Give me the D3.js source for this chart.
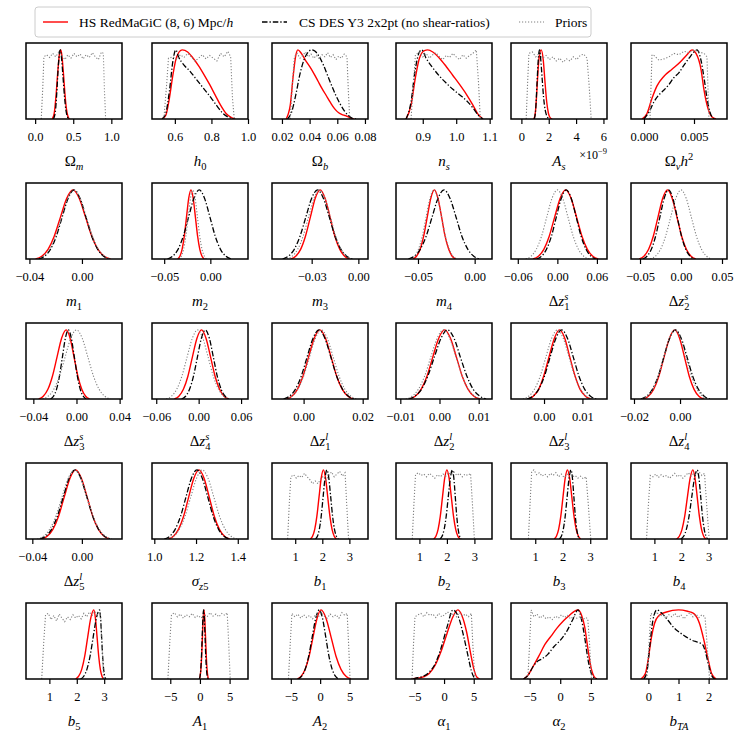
<!DOCTYPE html>
<html>
<head>
<meta charset="utf-8">
<script src="https://cdn.jsdelivr.net/npm/d3@7"></script>
<style>
  body { margin: 0; background: #fff; }
  text { font-family: "Liberation Serif", "DejaVu Serif", serif; fill: #000; }
</style>
</head>
<body>
<svg id="chart" width="746" height="745"></svg>
<script>
// ---- data ----

// label parts: [text, role]; role: none = upright, "it" = italic, "sub" italic subscript,
// "subr" upright subscript, "sup" upright superscript, "ss" stacked "sup|sub"
const paramLabels = [
  [["Ω"], ["m", "sub"]],
  [["h", "it"], ["0", "subr"]],
  [["Ω"], ["b", "sub"]],
  [["n", "it"], ["s", "sub"]],
  [["A", "it"], ["s", "sub"]],
  [["Ω"], ["ν", "sub"], ["h", "it"], ["2", "sup"]],
  [["m", "it"], ["1", "subr"]],
  [["m", "it"], ["2", "subr"]],
  [["m", "it"], ["3", "subr"]],
  [["m", "it"], ["4", "subr"]],
  [["Δ"], ["z", "it"], ["s|1", "ss"]],
  [["Δ"], ["z", "it"], ["s|2", "ss"]],
  [["Δ"], ["z", "it"], ["s|3", "ss"]],
  [["Δ"], ["z", "it"], ["s|4", "ss"]],
  [["Δ"], ["z", "it"], ["l|1", "ss"]],
  [["Δ"], ["z", "it"], ["l|2", "ss"]],
  [["Δ"], ["z", "it"], ["l|3", "ss"]],
  [["Δ"], ["z", "it"], ["l|4", "ss"]],
  [["Δ"], ["z", "it"], ["l|5", "ss"]],
  [["σ", "it"], ["z", "sub"], ["5", "subr"]],
  [["b", "it"], ["1", "subr"]],
  [["b", "it"], ["2", "subr"]],
  [["b", "it"], ["3", "subr"]],
  [["b", "it"], ["4", "subr"]],
  [["b", "it"], ["5", "subr"]],
  [["A", "it"], ["1", "subr"]],
  [["A", "it"], ["2", "subr"]],
  [["α", "it"], ["1", "subr"]],
  [["α", "it"], ["2", "subr"]],
  [["b", "it"], ["TA", "sub"]]
];

const xDomains = [
  [-0.12, 1.14], [0.475, 1.0], [0.0128, 0.0822], [0.82, 1.107], [-0.76, 6.26], [-0.0013, 0.0083],
  [-0.0426, 0.0305], [-0.0632, 0.0408], [-0.0555, 0.0062], [-0.0694, 0.0153], [-0.0703, 0.0753], [-0.061, 0.0561],
  [-0.0468, 0.0422], [-0.066, 0.0698], [-0.0107, 0.0218], [-0.0111, 0.0134], [-0.0086, 0.0164], [-0.0213, 0.0204],
  [-0.0451, 0.0324], [0.989, 1.449], [0.143, 3.687], [0.149, 3.64], [0.118, 3.61], [0.137, 3.68],
  [0.147, 3.65], [-8.08, 8.1], [-8.2, 8.15], [-8.1, 8.08], [-8.04, 7.64], [-0.577, 2.61]
];

const xTicks = [
  [0, 0.5, 1.0], [0.6, 0.8, 1.0], [0.02, 0.04, 0.06, 0.08], [0.9, 1.0, 1.1], [0, 2, 4, 6], [0, 0.005],
  [-0.04, 0], [-0.05, 0], [-0.03, 0], [-0.05, 0], [-0.06, 0, 0.06], [-0.05, 0, 0.05],
  [-0.04, 0, 0.04], [-0.06, 0, 0.06], [0, 0.02], [-0.01, 0, 0.01], [0, 0.01], [-0.02, 0],
  [-0.04, 0], [1.0, 1.2, 1.4], [1, 2, 3], [1, 2, 3], [1, 2, 3], [1, 2, 3],
  [1, 2, 3], [-5, 0, 5], [-5, 0, 5], [-5, 0, 5], [-5, 0, 5], [0, 1, 2]
];

const tickFormats = [
  ".1f", ".1f", ".2f", ".1f", "d", ".3f",
  ".2f", ".2f", ".2f", ".2f", ".2f", ".2f",
  ".2f", ".2f", ".2f", ".2f", ".2f", ".2f",
  ".2f", ".1f", "d", "d", "d", "d",
  "d", "d", "d", "d", "d", "d"
];

// HS RedMaGiC (8, 6) Mpc/h
const hsRedmagic = [
  [[0.225,0],[0.25,0.08],[0.275,0.35],[0.3,0.72],[0.32,0.95],[0.335,1],[0.35,0.93],[0.37,0.68],[0.39,0.38],[0.41,0.15],[0.43,0.04],[0.45,0]],
  [[0.53,0],[0.55,0.05],[0.57,0.3],[0.59,0.65],[0.61,0.9],[0.64,1],[0.67,0.97],[0.7,0.88],[0.73,0.77],[0.76,0.64],[0.79,0.5],[0.82,0.35],[0.85,0.2],[0.88,0.08],[0.91,0.02],[0.93,0]],
  [[0.023,0],[0.026,0.2],[0.028,0.6],[0.03,0.92],[0.0315,1],[0.034,0.95],[0.037,0.85],[0.04,0.76],[0.043,0.66],[0.046,0.55],[0.049,0.44],[0.052,0.34],[0.055,0.24],[0.058,0.15],[0.061,0.09],[0.064,0.06],[0.067,0.04],[0.07,0.01],[0.072,0]],
  [[0.85,0],[0.865,0.2],[0.878,0.6],[0.89,0.88],[0.905,0.99],[0.915,1],[0.93,0.97],[0.95,0.88],[0.97,0.76],[0.99,0.63],[1.01,0.5],[1.03,0.36],[1.05,0.2],[1.065,0.07],[1.08,0]],
  [[0.9,0],[1.0,0.06],[1.1,0.3],[1.2,0.65],[1.3,0.9],[1.45,1],[1.6,0.85],[1.72,0.55],[1.85,0.25],[1.98,0.08],[2.1,0.02],[2.25,0]],
  [[-0.0002,0],[0.0003,0.08],[0.0008,0.3],[0.0013,0.48],[0.002,0.62],[0.0028,0.72],[0.0036,0.82],[0.0043,0.93],[0.0048,1],[0.0052,0.95],[0.0057,0.72],[0.006,0.42],[0.0064,0.15],[0.0068,0.03],[0.0072,0]],
  [[-0.0353,0],[-0.0306,0.04],[-0.0258,0.14],[-0.0211,0.33],[-0.0163,0.61],[-0.0116,0.88],[-0.0068,1],[-0.0021,0.88],[0.0027,0.61],[0.0075,0.33],[0.0122,0.14],[0.017,0.04],[0.0217,0]],
  [[-0.0354,0],[-0.033,0.04],[-0.0306,0.14],[-0.0282,0.33],[-0.0258,0.61],[-0.0234,0.88],[-0.021,1],[-0.0186,0.88],[-0.0162,0.61],[-0.0138,0.33],[-0.0114,0.14],[-0.009,0.04],[-0.0066,0]],
  [[-0.0434,0],[-0.0403,0.04],[-0.0371,0.14],[-0.034,0.33],[-0.0308,0.61],[-0.0277,0.88],[-0.0245,1],[-0.0214,0.88],[-0.0182,0.61],[-0.0151,0.33],[-0.0119,0.14],[-0.0088,0.04],[-0.0056,0]],
  [[-0.0544,0],[-0.0513,0.04],[-0.0481,0.14],[-0.045,0.33],[-0.0418,0.61],[-0.0387,0.88],[-0.0355,1],[-0.0324,0.88],[-0.0292,0.61],[-0.0261,0.33],[-0.0229,0.14],[-0.0198,0.04],[-0.0166,0]],
  [[-0.037,0],[-0.0288,0.04],[-0.0205,0.14],[-0.0123,0.33],[-0.004,0.61],[0.0043,0.88],[0.0125,1],[0.0208,0.88],[0.029,0.61],[0.0373,0.33],[0.0455,0.14],[0.0538,0.04],[0.062,0]],
  [[-0.051,0],[-0.0453,0.04],[-0.0395,0.14],[-0.0338,0.33],[-0.028,0.61],[-0.0223,0.88],[-0.0165,1],[-0.0108,0.88],[-0.005,0.61],[0.0008,0.33],[0.0065,0.14],[0.0123,0.04],[0.018,0]],
  [[-0.035,0],[-0.0308,0.04],[-0.0265,0.14],[-0.0223,0.33],[-0.018,0.61],[-0.0138,0.88],[-0.0095,1],[-0.0059,0.88],[-0.0023,0.61],[0.0013,0.33],[0.0049,0.14],[0.0085,0.04],[0.0121,0]],
  [[-0.0344,0],[-0.028,0.04],[-0.0216,0.14],[-0.0152,0.33],[-0.0088,0.61],[-0.0024,0.88],[0.004,1],[0.0104,0.88],[0.0168,0.61],[0.0232,0.33],[0.0296,0.14],[0.036,0.04],[0.0424,0]],
  [[-0.0059,0],[-0.004,0.04],[-0.0021,0.14],[-0.0002,0.33],[0.0017,0.61],[0.0036,0.88],[0.0055,1],[0.0074,0.88],[0.0093,0.61],[0.0112,0.33],[0.0131,0.14],[0.015,0.04],[0.0169,0]],
  [[-0.0077,0],[-0.0062,0.04],[-0.0047,0.14],[-0.0032,0.33],[-0.0017,0.61],[-0.0002,0.88],[0.0013,1],[0.0028,0.88],[0.0043,0.61],[0.0058,0.33],[0.0073,0.14],[0.0088,0.04],[0.0103,0]],
  [[-0.0041,0],[-0.0028,0.04],[-0.0014,0.14],[-0.0001,0.33],[0.0013,0.61],[0.0027,0.88],[0.004,1],[0.0054,0.88],[0.0067,0.61],[0.0081,0.33],[0.0094,0.14],[0.0108,0.04],[0.0121,0]],
  [[-0.0161,0],[-0.0138,0.04],[-0.0115,0.14],[-0.0092,0.33],[-0.0069,0.61],[-0.0046,0.88],[-0.0023,1],[-0.0002,0.88],[0.0019,0.61],[0.004,0.33],[0.0061,0.14],[0.0082,0.04],[0.0103,0]],
  [[-0.0326,0],[-0.028,0.04],[-0.0234,0.14],[-0.0188,0.33],[-0.0142,0.61],[-0.0096,0.88],[-0.005,1],[-0.0004,0.88],[0.0042,0.61],[0.0088,0.33],[0.0134,0.14],[0.018,0.04],[0.0226,0]],
  [[1.067,0],[1.0915,0.04],[1.116,0.14],[1.1405,0.33],[1.165,0.61],[1.1895,0.88],[1.214,1],[1.2385,0.88],[1.263,0.61],[1.2875,0.33],[1.312,0.14],[1.3365,0.04],[1.361,0]],
  [[1.56,0],[1.64,0.04],[1.72,0.14],[1.8,0.33],[1.88,0.61],[1.96,0.88],[2.04,1],[2.12,0.88],[2.2,0.61],[2.28,0.33],[2.36,0.14],[2.44,0.04],[2.52,0]],
  [[1.52,0],[1.6,0.04],[1.68,0.14],[1.76,0.33],[1.84,0.61],[1.92,0.88],[2,1],[2.08,0.88],[2.16,0.61],[2.24,0.33],[2.32,0.14],[2.4,0.04],[2.48,0]],
  [[1.69,0],[1.77,0.04],[1.85,0.14],[1.93,0.33],[2.01,0.61],[2.09,0.88],[2.17,1],[2.25,0.88],[2.33,0.61],[2.41,0.33],[2.49,0.14],[2.57,0.04],[2.65,0]],
  [[1.82,0],[1.92,0.04],[2.02,0.14],[2.12,0.33],[2.22,0.61],[2.32,0.88],[2.42,1],[2.5,0.88],[2.58,0.61],[2.66,0.33],[2.74,0.14],[2.82,0.04],[2.9,0]],
  [[1.96,0],[2.07,0.04],[2.18,0.14],[2.29,0.33],[2.4,0.61],[2.51,0.88],[2.62,1],[2.68,0.88],[2.74,0.61],[2.8,0.33],[2.86,0.14],[2.92,0.04],[2.98,0]],
  [[-0.1,0],[0.03,0.04],[0.16,0.14],[0.29,0.33],[0.42,0.61],[0.55,0.88],[0.68,1],[0.81,0.88],[0.94,0.61],[1.07,0.33],[1.2,0.14],[1.33,0.04],[1.46,0]],
  [[-3.9,0],[-3.225,0.04],[-2.55,0.14],[-1.875,0.33],[-1.2,0.61],[-0.525,0.88],[0.15,1],[1.0,0.88],[1.85,0.61],[2.7,0.33],[3.55,0.14],[4.4,0.04],[5.25,0]],
  [[-5.5,0],[-4.5,0.01],[-3.5,0.03],[-2.5,0.08],[-1.5,0.2],[-0.5,0.4],[0.5,0.66],[1.5,0.9],[2.3,1],[3.0,0.92],[3.8,0.68],[4.5,0.36],[5.0,0.15],[5.5,0.03],[6.0,0]],
  [[-6,0],[-5.3,0.05],[-4.5,0.17],[-3.5,0.33],[-2.5,0.5],[-1.5,0.62],[-0.5,0.74],[0.5,0.84],[1.5,0.92],[2.3,0.98],[2.9,1],[3.5,0.92],[4.0,0.75],[4.5,0.45],[5.0,0.18],[5.5,0.04],[6.0,0]],
  [[-0.25,0],[-0.1,0.08],[0,0.3],[0.1,0.6],[0.2,0.8],[0.35,0.92],[0.6,0.97],[1.0,1],[1.3,0.98],[1.5,0.95],[1.7,0.8],[1.85,0.55],[2.0,0.25],[2.1,0.08],[2.25,0]]
];

// CS DES Y3 2x2pt (no shear-ratios)
const csDesY3 = [
  [[0.24,0],[0.265,0.1],[0.285,0.4],[0.305,0.78],[0.32,0.96],[0.33,1],[0.345,0.9],[0.365,0.62],[0.385,0.33],[0.405,0.12],[0.425,0.03],[0.445,0]],
  [[0.53,0],[0.55,0.08],[0.57,0.4],[0.59,0.85],[0.605,1],[0.62,0.9],[0.65,0.78],[0.68,0.7],[0.71,0.6],[0.74,0.5],[0.77,0.4],[0.8,0.3],[0.83,0.19],[0.86,0.09],[0.89,0.03],[0.92,0]],
  [[0.024,0],[0.027,0.1],[0.03,0.35],[0.033,0.65],[0.036,0.86],[0.039,0.97],[0.0415,1],[0.044,0.98],[0.047,0.9],[0.05,0.78],[0.053,0.63],[0.056,0.48],[0.059,0.34],[0.062,0.22],[0.065,0.12],[0.068,0.05],[0.071,0.01],[0.074,0]],
  [[0.85,0],[0.865,0.25],[0.877,0.7],[0.89,0.97],[0.897,1],[0.91,0.88],[0.93,0.74],[0.95,0.62],[0.97,0.52],[0.99,0.43],[1.01,0.35],[1.03,0.27],[1.05,0.16],[1.065,0.06],[1.08,0]],
  [[0.95,0],[1.05,0.15],[1.15,0.55],[1.25,0.9],[1.32,1],[1.42,0.85],[1.52,0.58],[1.62,0.32],[1.75,0.12],[1.9,0.03],[2.05,0]],
  [[0,0],[0.0005,0.1],[0.001,0.25],[0.0015,0.35],[0.002,0.42],[0.0025,0.5],[0.003,0.6],[0.0035,0.67],[0.004,0.78],[0.0045,0.88],[0.005,0.97],[0.0053,1],[0.0057,0.85],[0.006,0.6],[0.0063,0.3],[0.0066,0.1],[0.007,0]],
  [[-0.033,0],[-0.0285,0.04],[-0.024,0.14],[-0.0195,0.33],[-0.015,0.61],[-0.0105,0.88],[-0.006,1],[-0.0015,0.88],[0.003,0.61],[0.0075,0.33],[0.012,0.14],[0.0165,0.04],[0.021,0]],
  [[-0.0465,0],[-0.0408,0.04],[-0.035,0.14],[-0.0293,0.33],[-0.0235,0.61],[-0.0178,0.88],[-0.012,1],[-0.0063,0.88],[-0.0005,0.61],[0.0053,0.33],[0.011,0.14],[0.0168,0.04],[0.0225,0]],
  [[-0.0487,0],[-0.045,0.04],[-0.0412,0.14],[-0.0375,0.33],[-0.0337,0.61],[-0.03,0.88],[-0.0262,1],[-0.0225,0.88],[-0.0187,0.61],[-0.015,0.33],[-0.0112,0.14],[-0.0075,0.04],[-0.0037,0]],
  [[-0.0585,0],[-0.0533,0.04],[-0.048,0.14],[-0.0428,0.33],[-0.0375,0.61],[-0.0323,0.88],[-0.027,1],[-0.0218,0.88],[-0.0165,0.61],[-0.0113,0.33],[-0.006,0.14],[-0.0008,0.04],[0.0045,0]],
  [[-0.0315,0],[-0.024,0.04],[-0.0165,0.14],[-0.009,0.33],[-0.0015,0.61],[0.006,0.88],[0.0135,1],[0.021,0.88],[0.0285,0.61],[0.036,0.33],[0.0435,0.14],[0.051,0.04],[0.0585,0]],
  [[-0.0467,0],[-0.0415,0.04],[-0.0362,0.14],[-0.031,0.33],[-0.0257,0.61],[-0.0205,0.88],[-0.0152,1],[-0.01,0.88],[-0.0047,0.61],[0.0006,0.33],[0.0058,0.14],[0.0111,0.04],[0.0163,0]],
  [[-0.024,0],[-0.0213,0.04],[-0.0185,0.14],[-0.0158,0.33],[-0.013,0.61],[-0.0103,0.88],[-0.0075,1],[-0.0048,0.88],[-0.002,0.61],[0.0008,0.33],[0.0035,0.14],[0.0063,0.04],[0.009,0]],
  [[-0.0241,0],[-0.0185,0.04],[-0.0129,0.14],[-0.0073,0.33],[-0.0017,0.61],[0.0039,0.88],[0.0095,1],[0.0151,0.88],[0.0207,0.61],[0.0263,0.33],[0.0319,0.14],[0.0375,0.04],[0.0431,0]],
  [[-0.0068,0],[-0.0048,0.04],[-0.0028,0.14],[-0.0008,0.33],[0.0012,0.61],[0.0032,0.88],[0.0052,1],[0.0072,0.88],[0.0092,0.61],[0.0112,0.33],[0.0132,0.14],[0.0152,0.04],[0.0172,0]],
  [[-0.0079,0],[-0.0063,0.04],[-0.0046,0.14],[-0.003,0.33],[-0.0013,0.61],[0.0004,0.88],[0.002,1],[0.0037,0.88],[0.0053,0.61],[0.007,0.33],[0.0086,0.14],[0.0103,0.04],[0.0119,0]],
  [[-0.0044,0],[-0.0029,0.04],[-0.0014,0.14],[0.0001,0.33],[0.0016,0.61],[0.0031,0.88],[0.0046,1],[0.0061,0.88],[0.0076,0.61],[0.0091,0.33],[0.0106,0.14],[0.0121,0.04],[0.0136,0]],
  [[-0.017,0],[-0.0145,0.04],[-0.012,0.14],[-0.0095,0.33],[-0.007,0.61],[-0.0045,0.88],[-0.002,1],[0.0005,0.88],[0.003,0.61],[0.0055,0.33],[0.008,0.14],[0.0105,0.04],[0.013,0]],
  [[-0.034,0],[-0.0293,0.04],[-0.0245,0.14],[-0.0198,0.33],[-0.015,0.61],[-0.0103,0.88],[-0.0055,1],[-0.0008,0.88],[0.004,0.61],[0.0088,0.33],[0.0135,0.14],[0.0183,0.04],[0.023,0]],
  [[1.048,0],[1.074,0.04],[1.1,0.14],[1.126,0.33],[1.152,0.61],[1.178,0.88],[1.204,1],[1.23,0.88],[1.256,0.61],[1.282,0.33],[1.308,0.14],[1.334,0.04],[1.36,0]],
  [[1.75,0],[1.82,0.04],[1.89,0.14],[1.96,0.33],[2.03,0.61],[2.1,0.88],[2.17,1],[2.24,0.88],[2.31,0.61],[2.38,0.33],[2.45,0.14],[2.52,0.04],[2.59,0]],
  [[1.75,0],[1.825,0.04],[1.9,0.14],[1.975,0.33],[2.05,0.61],[2.125,0.88],[2.2,1],[2.253,0.88],[2.305,0.61],[2.358,0.33],[2.41,0.14],[2.463,0.04],[2.515,0]],
  [[1.88,0],[1.95,0.04],[2.02,0.14],[2.09,0.33],[2.16,0.61],[2.23,0.88],[2.3,1],[2.353,0.88],[2.405,0.61],[2.458,0.33],[2.51,0.14],[2.563,0.04],[2.615,0]],
  [[1.98,0],[2.08,0.04],[2.18,0.14],[2.28,0.33],[2.38,0.61],[2.48,0.88],[2.58,1],[2.645,0.88],[2.71,0.61],[2.775,0.33],[2.84,0.14],[2.905,0.04],[2.97,0]],
  [[2.14,0],[2.255,0.04],[2.37,0.14],[2.485,0.33],[2.6,0.61],[2.715,0.88],[2.83,1],[2.868,0.88],[2.905,0.61],[2.943,0.33],[2.98,0.14],[3.018,0.04],[3.055,0]],
  [[-0.1,0],[0.02,0.04],[0.14,0.14],[0.26,0.33],[0.38,0.61],[0.5,0.88],[0.62,1],[0.74,0.88],[0.86,0.61],[0.98,0.33],[1.1,0.14],[1.22,0.04],[1.34,0]],
  [[-3.75,0],[-3.15,0.04],[-2.55,0.14],[-1.95,0.33],[-1.35,0.61],[-0.75,0.88],[-0.15,1],[0.4,0.88],[0.95,0.61],[1.5,0.33],[2.05,0.14],[2.6,0.04],[3.15,0]],
  [[-5.2,0],[-4.5,0.02],[-3.5,0.04],[-2.5,0.1],[-1.5,0.22],[-0.5,0.45],[0.5,0.75],[1.5,1],[2.5,0.88],[3.3,0.62],[4.0,0.35],[4.6,0.12],[5.0,0.03],[5.3,0]],
  [[-6,0],[-5.2,0.06],[-4.5,0.17],[-3.8,0.25],[-3.0,0.29],[-2.0,0.36],[-1.0,0.47],[0,0.56],[1.0,0.68],[2.0,0.85],[2.9,1],[3.5,0.85],[4.0,0.6],[4.5,0.3],[5.0,0.1],[5.5,0.02],[6.0,0]],
  [[-0.15,0],[-0.05,0.1],[0.05,0.5],[0.15,0.85],[0.28,1],[0.45,0.95],[0.65,0.85],[0.85,0.74],[1.05,0.67],[1.25,0.61],[1.45,0.56],[1.65,0.53],[1.8,0.5],[1.9,0.38],[2.0,0.2],[2.1,0.05],[2.2,0]]
];

// Priors
const priors = [
  [[0.08,0],[0.1,0.45],[0.115,0.9],[0.15,0.93],[0.19,0.89],[0.23,0.95],[0.27,0.9],[0.31,0.97],[0.35,0.92],[0.39,0.86],[0.43,0.93],[0.47,0.88],[0.51,0.95],[0.55,0.9],[0.59,0.94],[0.63,0.87],[0.67,0.93],[0.71,0.89],[0.75,0.96],[0.79,0.9],[0.83,0.86],[0.87,0.97],[0.895,0.95],[0.91,0.4],[0.925,0]],
  [[0.54,0],[0.555,0.5],[0.565,0.88],[0.59,0.9],[0.61,0.86],[0.63,0.93],[0.65,0.89],[0.67,0.95],[0.69,0.9],[0.71,0.84],[0.73,0.88],[0.75,0.93],[0.77,0.87],[0.79,0.92],[0.81,0.88],[0.83,0.84],[0.85,0.95],[0.87,0.9],[0.89,0.98],[0.905,0.9],[0.915,0.3],[0.925,0]],
  [[0.026,0],[0.0275,0.5],[0.029,0.9],[0.031,0.95],[0.033,0.88],[0.035,0.92],[0.037,0.97],[0.039,0.9],[0.041,0.94],[0.043,0.88],[0.045,0.92],[0.047,0.87],[0.049,0.93],[0.051,0.9],[0.053,0.96],[0.055,0.89],[0.057,0.93],[0.059,0.86],[0.061,0.91],[0.063,0.88],[0.065,0.94],[0.067,0.9],[0.068,0.4],[0.069,0]],
  [[0.865,0],[0.872,0.5],[0.878,0.93],[0.89,0.97],[0.9,0.9],[0.91,0.95],[0.92,0.88],[0.93,0.93],[0.94,0.96],[0.95,0.9],[0.96,0.86],[0.97,0.92],[0.98,0.89],[0.99,0.95],[1.0,0.9],[1.01,0.86],[1.02,0.93],[1.03,0.88],[1.04,0.92],[1.05,0.95],[1.06,1.0],[1.067,0.5],[1.072,0]],
  [[0.35,0],[0.45,0.5],[0.55,0.95],[0.8,0.97],[1.05,0.9],[1.3,0.95],[1.55,0.88],[1.8,0.92],[2.05,0.86],[2.3,0.9],[2.55,0.84],[2.8,0.88],[3.05,0.82],[3.3,0.87],[3.55,0.84],[3.8,0.9],[4.05,0.86],[4.3,0.92],[4.55,0.94],[4.8,0.88],[4.95,0.5],[5.1,0]],
  [[0.0006,0],[0.0008,0.93],[0.001,0.92],[0.0015,0.85],[0.002,0.87],[0.0025,0.9],[0.003,0.95],[0.0035,0.93],[0.004,0.98],[0.0045,0.96],[0.005,1.0],[0.0055,0.97],[0.006,0.95],[0.0063,0.9],[0.0065,0]],
  [[-0.0339,0],[-0.0293,0.04],[-0.0246,0.14],[-0.02,0.33],[-0.0153,0.61],[-0.0107,0.88],[-0.006,1],[-0.0014,0.88],[0.0033,0.61],[0.008,0.33],[0.0126,0.14],[0.0173,0.04],[0.0219,0]],
  [[-0.034,0],[-0.0315,0.04],[-0.029,0.14],[-0.0265,0.33],[-0.024,0.61],[-0.0215,0.88],[-0.019,1],[-0.0165,0.88],[-0.014,0.61],[-0.0115,0.33],[-0.009,0.14],[-0.0065,0.04],[-0.004,0]],
  [[-0.046,0],[-0.0425,0.04],[-0.039,0.14],[-0.0355,0.33],[-0.032,0.61],[-0.0285,0.88],[-0.025,1],[-0.0215,0.88],[-0.018,0.61],[-0.0145,0.33],[-0.011,0.14],[-0.0075,0.04],[-0.004,0]],
  [[-0.0564,0],[-0.053,0.04],[-0.0496,0.14],[-0.0462,0.33],[-0.0428,0.61],[-0.0394,0.88],[-0.036,1],[-0.0326,0.88],[-0.0292,0.61],[-0.0258,0.33],[-0.0224,0.14],[-0.019,0.04],[-0.0156,0]],
  [[-0.048,0],[-0.04,0.04],[-0.032,0.14],[-0.024,0.33],[-0.016,0.61],[-0.008,0.88],[0,1],[0.008,0.88],[0.016,0.61],[0.024,0.33],[0.032,0.14],[0.04,0.04],[0.048,0]],
  [[-0.0375,0],[-0.0313,0.04],[-0.025,0.14],[-0.0188,0.33],[-0.0125,0.61],[-0.0063,0.88],[0,1],[0.0063,0.88],[0.0125,0.61],[0.0188,0.33],[0.025,0.14],[0.0313,0.04],[0.0375,0]],
  [[-0.0315,0],[-0.0263,0.04],[-0.021,0.14],[-0.0158,0.33],[-0.0105,0.61],[-0.0053,0.88],[0,1],[0.0053,0.88],[0.0105,0.61],[0.0158,0.33],[0.021,0.14],[0.0263,0.04],[0.0315,0]],
  [[-0.0459,0],[-0.0385,0.04],[-0.0311,0.14],[-0.0237,0.33],[-0.0163,0.61],[-0.0089,0.88],[-0.0015,1],[0.0059,0.88],[0.0133,0.61],[0.0207,0.33],[0.0281,0.14],[0.0355,0.04],[0.0429,0]],
  [[-0.006,0],[-0.004,0.04],[-0.002,0.14],[0,0.33],[0.002,0.61],[0.004,0.88],[0.006,1],[0.008,0.88],[0.01,0.61],[0.012,0.33],[0.014,0.14],[0.016,0.04],[0.018,0]],
  [[-0.0086,0],[-0.007,0.04],[-0.0054,0.14],[-0.0038,0.33],[-0.0022,0.61],[-0.0006,0.88],[0.001,1],[0.0026,0.88],[0.0042,0.61],[0.0058,0.33],[0.0074,0.14],[0.009,0.04],[0.0106,0]],
  [[-0.0055,0],[-0.004,0.04],[-0.0025,0.14],[-0.001,0.33],[0.0005,0.61],[0.002,0.88],[0.0035,1],[0.005,0.88],[0.0065,0.61],[0.008,0.33],[0.0095,0.14],[0.011,0.04],[0.0125,0]],
  [[-0.0166,0],[-0.0142,0.04],[-0.0118,0.14],[-0.0094,0.33],[-0.007,0.61],[-0.0046,0.88],[-0.0022,1],[0.0002,0.88],[0.0026,0.61],[0.005,0.33],[0.0074,0.14],[0.0098,0.04],[0.0122,0]],
  [[-0.036,0],[-0.031,0.04],[-0.026,0.14],[-0.021,0.33],[-0.016,0.61],[-0.011,0.88],[-0.006,1],[-0.001,0.88],[0.004,0.61],[0.009,0.33],[0.014,0.14],[0.019,0.04],[0.024,0]],
  [[1.065,0],[1.0925,0.04],[1.12,0.14],[1.1475,0.33],[1.175,0.61],[1.2025,0.88],[1.23,1],[1.2575,0.88],[1.285,0.61],[1.3125,0.33],[1.34,0.14],[1.3675,0.04],[1.395,0]],
  [[0.72,0],[0.78,0.5],[0.84,0.9],[0.94,0.93],[1.04,0.88],[1.14,0.92],[1.24,0.89],[1.34,0.95],[1.44,0.9],[1.54,0.86],[1.64,0.8],[1.74,0.84],[1.84,0.8],[1.94,0.87],[2.04,0.91],[2.14,0.85],[2.24,0.92],[2.34,0.97],[2.44,0.9],[2.54,0.94],[2.64,0.98],[2.74,0.91],[2.84,0.96],[2.9,0.5],[2.97,0]],
  [[0.74,0],[0.8,0.5],[0.86,0.93],[0.96,0.96],[1.06,0.92],[1.16,0.94],[1.26,0.9],[1.36,0.95],[1.46,0.92],[1.56,0.88],[1.66,0.93],[1.76,0.9],[1.86,0.94],[1.96,0.91],[2.06,0.96],[2.16,0.93],[2.26,0.97],[2.36,0.92],[2.46,0.95],[2.56,0.9],[2.66,0.94],[2.76,0.92],[2.86,0.95],[2.93,0.5],[3.0,0]],
  [[0.75,0],[0.81,0.5],[0.87,0.97],[0.95,1.0],[1.05,0.93],[1.15,0.96],[1.25,0.91],[1.35,0.94],[1.45,0.9],[1.55,0.95],[1.65,0.92],[1.75,0.96],[1.85,0.9],[1.95,0.94],[2.05,0.89],[2.15,0.93],[2.25,0.96],[2.35,0.9],[2.45,0.92],[2.55,0.88],[2.65,0.91],[2.75,0.87],[2.85,0.9],[2.93,0.5],[3.02,0]],
  [[0.71,0],[0.78,0.5],[0.85,0.92],[0.95,0.9],[1.05,0.94],[1.15,0.89],[1.25,0.93],[1.35,0.9],[1.45,0.92],[1.55,0.88],[1.65,0.91],[1.75,0.95],[1.85,0.9],[1.95,0.93],[2.05,0.88],[2.15,0.92],[2.25,0.96],[2.35,0.91],[2.45,0.95],[2.55,0.93],[2.65,0.97],[2.75,0.92],[2.85,0.95],[2.93,0.5],[3.02,0]],
  [[0.72,0],[0.79,0.5],[0.86,0.93],[0.96,0.95],[1.06,0.86],[1.16,0.92],[1.26,0.84],[1.36,0.94],[1.46,0.88],[1.56,0.83],[1.66,0.9],[1.76,0.86],[1.86,0.93],[1.96,0.88],[2.06,0.92],[2.16,0.87],[2.26,0.95],[2.36,0.9],[2.46,0.97],[2.56,0.92],[2.66,0.98],[2.76,0.93],[2.86,0.96],[2.92,0.5],[2.98,0]],
  [[-5.4,0],[-5.1,0.5],[-4.8,0.93],[-4.3,0.96],[-3.8,0.9],[-3.3,0.94],[-2.8,0.88],[-2.3,0.93],[-1.8,0.9],[-1.3,0.95],[-0.8,0.89],[-0.3,0.92],[0.2,0.88],[0.7,0.94],[1.2,0.9],[1.7,0.96],[2.2,0.91],[2.7,0.94],[3.2,0.9],[3.7,0.95],[4.2,0.92],[4.6,0.96],[4.85,0.5],[5.1,0]],
  [[-5.4,0],[-5.1,0.5],[-4.8,0.95],[-4.3,0.9],[-3.8,0.94],[-3.3,0.88],[-2.8,0.93],[-2.3,0.89],[-1.8,0.92],[-1.3,0.87],[-0.8,0.93],[-0.3,0.9],[0.2,0.96],[0.7,0.91],[1.2,0.88],[1.7,0.94],[2.2,0.9],[2.7,0.93],[3.2,0.88],[3.7,0.96],[4.2,0.92],[4.6,0.95],[4.85,0.5],[5.1,0]],
  [[-5.4,0],[-5.15,0.5],[-4.9,0.9],[-4.4,0.93],[-3.9,0.95],[-3.4,0.9],[-2.9,0.96],[-2.4,0.92],[-1.9,0.94],[-1.4,0.89],[-0.9,0.95],[-0.4,0.9],[0.1,0.93],[0.6,0.97],[1.1,0.92],[1.6,0.95],[2.1,0.9],[2.6,0.96],[3.1,0.91],[3.6,0.94],[4.1,0.9],[4.6,0.95],[4.85,0.5],[5.2,0]],
  [[-5.3,0],[-5.0,0.5],[-4.75,1.0],[-4.3,0.9],[-3.8,0.94],[-3.3,0.88],[-2.8,0.92],[-2.3,0.87],[-1.8,0.9],[-1.3,0.86],[-0.8,0.91],[-0.3,0.88],[0.2,0.93],[0.7,0.89],[1.2,0.92],[1.7,0.87],[2.2,0.91],[2.7,0.88],[3.2,0.9],[3.7,0.86],[4.2,0.89],[4.5,0.87],[4.8,0.5],[5.1,0]],
  [[-0.05,0],[0.02,0.5],[0.08,0.95],[0.18,0.92],[0.28,0.97],[0.38,0.9],[0.48,0.94],[0.58,0.88],[0.68,0.93],[0.78,0.9],[0.88,0.95],[0.98,0.89],[1.08,0.93],[1.18,0.87],[1.28,0.92],[1.38,0.96],[1.48,0.9],[1.58,0.94],[1.68,0.89],[1.78,0.93],[1.88,0.9],[1.95,0.5],[2.03,0]]
];

// panels whose prior is a flat (uniform) histogram rather than a gaussian
const flatPriorPanels = [0, 1, 2, 3, 4, 5, 20, 21, 22, 23, 24, 25, 26, 27, 28, 29];

// ---- layout ----
const colLeft = [26, 152, 272, 396, 511, 631];
const rowTop = [43, 183, 323, 463, 603];
const panelW = 96, panelH = 76;

const svg = d3.select("#chart");

const y = d3.scaleLinear().domain([0, 1.1]).range([panelH, 0]);

function drawLabel(g, parts) {
  const t = g.append("text")
    .attr("x", panelW / 2)
    .attr("y", panelH + 47)
    .attr("text-anchor", "middle")
    .style("font-size", "15px");
  let shift = 0;
  parts.forEach(function (p) {
    const s = p[0], role = p[1];
    if (role === "ss") {
      const pieces = s.split("|");
      const a = t.append("tspan").attr("dy", -6 - shift)
        .style("font-size", "10.5px").style("font-style", "italic").text(pieces[0]);
      const w = a.node().getComputedTextLength();
      t.append("tspan").attr("dx", -w).attr("dy", 10)
        .style("font-size", "10.5px").style("font-style", "normal").text(pieces[1]);
      shift = 4;
    } else if (role === "sub" || role === "subr") {
      t.append("tspan").attr("dy", 3.5 - shift)
        .style("font-size", "10.5px").style("font-style", role === "sub" ? "italic" : "normal").text(s);
      shift = 3.5;
    } else if (role === "sup") {
      t.append("tspan").attr("dy", -6 - shift)
        .style("font-size", "10.5px").style("font-style", "normal").text(s);
      shift = -6;
    } else {
      t.append("tspan").attr("dy", -shift)
        .style("font-size", "15px").style("font-style", role === "it" ? "italic" : "normal").text(s);
      shift = 0;
    }
  });
}

for (let i = 0; i < paramLabels.length; i++) {
  const col = i % 6, row = Math.floor(i / 6);
  const g = svg.append("g").attr("transform", "translate(" + colLeft[col] + "," + rowTop[row] + ")");

  const x = d3.scaleLinear().domain(xDomains[i]).range([0, panelW]);
  const smooth = d3.line().x(d => x(d[0])).y(d => y(d[1])).curve(d3.curveMonotoneX);
  const jagged = d3.line().x(d => x(d[0])).y(d => y(d[1]));

  g.append("clipPath").attr("id", "clip" + i)
    .append("rect").attr("width", panelW).attr("height", panelH);

  const plot = g.append("g").attr("clip-path", "url(#clip" + i + ")");

  plot.append("path")
    .datum(hsRedmagic[i])
    .attr("fill", "none")
    .attr("stroke", "#ff0000")
    .attr("stroke-width", 1.4)
    .attr("d", smooth);

  plot.append("path")
    .datum(csDesY3[i])
    .attr("fill", "none")
    .attr("stroke", "#000")
    .attr("stroke-width", 1.3)
    .attr("stroke-dasharray", "5.5,2,1.3,2")
    .attr("d", smooth);

  plot.append("path")
    .datum(priors[i])
    .attr("fill", "none")
    .attr("stroke", "#808080")
    .attr("stroke-width", 1.1)
    .attr("stroke-dasharray", "1.2,1.8")
    .attr("d", flatPriorPanels.includes(i) ? jagged : smooth);

  const d0 = xDomains[i][0], d1 = xDomains[i][1];
  const ticks = xTicks[i].filter(v => v >= d0 - 1e-9 && v <= d1 + 1e-9);
  const xAxis = d3.axisBottom(x)
    .tickValues(ticks)
    .tickFormat(d3.format(tickFormats[i]))
    .tickSize(5)
    .tickPadding(8)
    .tickSizeOuter(0);

  const ax = g.append("g")
    .attr("transform", "translate(0," + panelH + ")")
    .call(xAxis);
  ax.select(".domain").remove();
  ax.selectAll("line").attr("stroke", "#000").attr("stroke-width", 1.2);
  ax.selectAll("text")
    .style("font-family", "'Liberation Serif', serif")
    .style("font-size", "12.5px")
    .attr("fill", "#000");

  g.append("rect")
    .attr("width", panelW)
    .attr("height", panelH)
    .attr("fill", "none")
    .attr("stroke", "#000")
    .attr("stroke-width", 1.5);

  drawLabel(g, paramLabels[i]);

  // A_s carries a scale factor
  if (i === 4) {
    const off = g.append("text")
      .attr("x", panelW)
      .attr("y", panelH + 40)
      .attr("text-anchor", "end")
      .style("font-size", "12px");
    off.append("tspan").text("×10");
    off.append("tspan").attr("dy", -5).style("font-size", "8.5px").text("−9");
  }
}

// ---- legend ----
const legend = svg.append("g");
legend.append("rect")
  .attr("x", 35).attr("y", 7)
  .attr("width", 556).attr("height", 30)
  .attr("rx", 3)
  .attr("fill", "#fff")
  .attr("stroke", "#cccccc")
  .attr("stroke-width", 1);

const legendItems = [
  { x: 43, stroke: "#ff0000", width: 1.4, dash: null },
  { x: 262, stroke: "#000", width: 1.3, dash: "5.5,2,1.3,2" },
  { x: 519, stroke: "#808080", width: 1.1, dash: "1.2,1.8" }
];
legendItems.forEach(function (it) {
  legend.append("line")
    .attr("x1", it.x).attr("x2", it.x + 25)
    .attr("y1", 22).attr("y2", 22)
    .attr("stroke", it.stroke)
    .attr("stroke-width", it.width)
    .attr("stroke-dasharray", it.dash);
});

const t1 = legend.append("text").attr("x", 79).attr("y", 27).style("font-size", "13.5px");
t1.append("tspan").text("HS RedMaGiC (8, 6) Mpc/");
t1.append("tspan").style("font-style", "italic").text("h");
legend.append("text").attr("x", 299).attr("y", 27).style("font-size", "13.5px")
  .text("CS DES Y3 2x2pt (no shear-ratios)");
legend.append("text").attr("x", 555).attr("y", 27).style("font-size", "13.5px")
  .text("Priors");
</script>
</body>
</html>
